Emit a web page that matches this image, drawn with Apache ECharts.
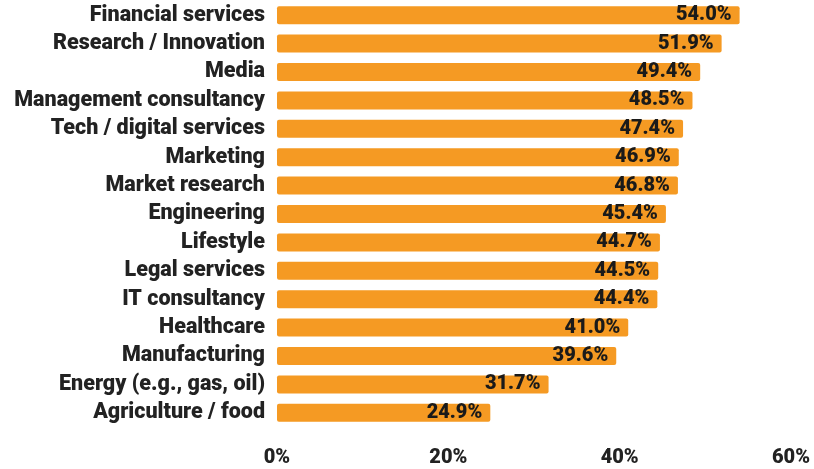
<!DOCTYPE html>
<html>
<head>
<meta charset="utf-8">
<script src="https://cdn.jsdelivr.net/npm/echarts@6/dist/echarts.min.js"></script>
<style>
  html, body { margin: 0; padding: 0; background: #ffffff; }
  #chart { width: 814px; height: 469px; }
</style>
</head>
<body>
<div id="chart"></div>
<script>
// Sectors, listed top to bottom
const categories = [
  'Financial services',
  'Research / Innovation',
  'Media',
  'Management consultancy',
  'Tech / digital services',
  'Marketing',
  'Market research',
  'Engineering',
  'Lifestyle',
  'Legal services',
  'IT consultancy',
  'Healthcare',
  'Manufacturing',
  'Energy (e.g., gas, oil)',
  'Agriculture / food'
];

// Share per sector, in percent
const shares = [54.0, 51.9, 49.4, 48.5, 47.4, 46.9, 46.8, 45.4, 44.7, 44.5, 44.4, 41.0, 39.6, 31.7, 24.9];

// Value axis ticks
const axisTicks = [0, 20, 40, 60];

const chart = echarts.init(document.getElementById('chart'), null, { renderer: 'canvas' });

chart.setOption({
  animation: false,
  backgroundColor: '#ffffff',
  grid: { left: 277, right: 23, top: 1, bottom: 42, containLabel: false },
  xAxis: {
    type: 'value',
    min: axisTicks[0],
    max: axisTicks[axisTicks.length - 1],
    interval: axisTicks[1] - axisTicks[0],
    axisLine: { show: false },
    axisTick: { show: false },
    splitLine: { show: false },
    axisLabel: {
      formatter: '{value}%',
      color: '#222222',
      fontFamily: 'Roboto',
      fontWeight: 900,
      fontSize: 20,
      margin: 21
    }
  },
  yAxis: {
    type: 'category',
    inverse: true,
    data: categories,
    axisLine: { show: false },
    axisTick: { show: false },
    splitLine: { show: false },
    axisLabel: {
      interval: 0,
      color: '#222222',
      fontFamily: 'Roboto',
      fontWeight: 900,
      fontSize: 21.5,
      margin: 12
    }
  },
  series: [{
    type: 'bar',
    data: shares,
    barWidth: 18,
    itemStyle: { color: '#F59A23', borderRadius: 2 },
    label: {
      show: true,
      position: 'insideRight',
      distance: 8,
      formatter: p => p.value.toFixed(1) + '%',
      color: '#1a1a1a',
      fontFamily: 'Roboto',
      fontWeight: 900,
      fontSize: 20
    }
  }]
});
</script>
</body>
</html>
